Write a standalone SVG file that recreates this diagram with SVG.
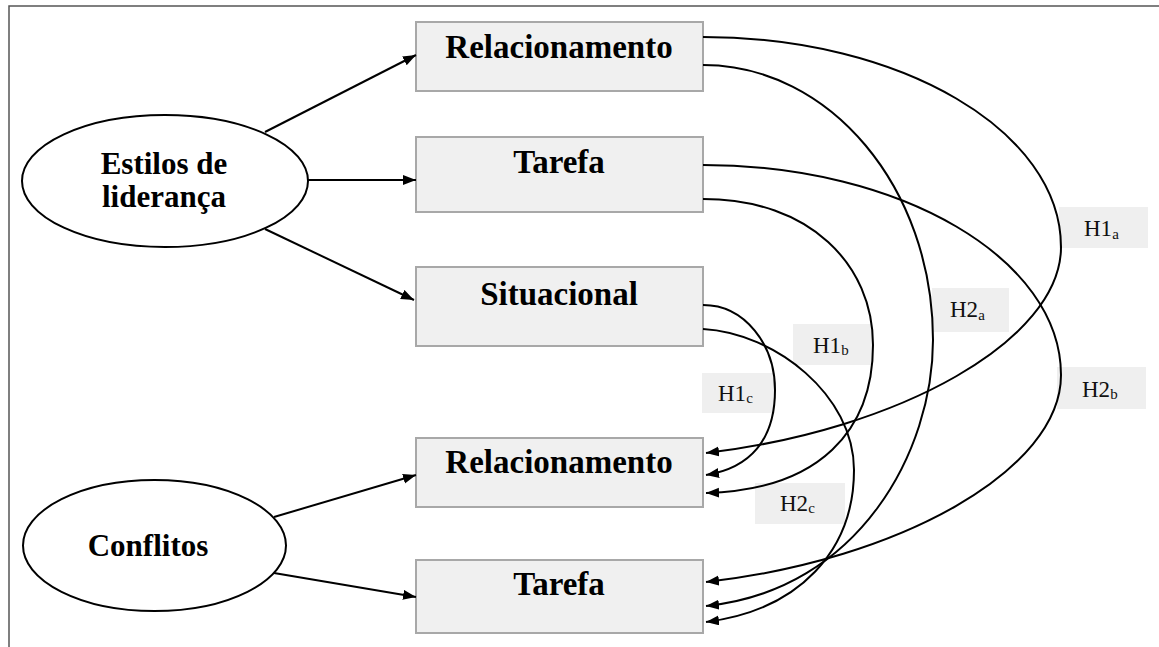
<svg xmlns="http://www.w3.org/2000/svg" width="1159" height="647" viewBox="0 0 1159 647">
<style>
.box{fill:#f0f0f0;stroke:#a8a8a8;stroke-width:2}
.ell{fill:#fff;stroke:#000;stroke-width:2}
.nt{font-family:"Liberation Serif","Times New Roman",serif;font-weight:bold;font-size:33px;fill:#000;text-anchor:middle}
.et{font-family:"Liberation Serif","Times New Roman",serif;font-weight:bold;font-size:31px;fill:#000;text-anchor:middle}
.lb{fill:#efefef}
.lt{font-family:"Liberation Serif","Times New Roman",serif;font-size:23px;fill:#111}
.sub{font-size:15px}
.ln{fill:none;stroke:#000;stroke-width:2}
</style>
<defs>
<marker id="ah" markerUnits="userSpaceOnUse" markerWidth="14" markerHeight="11" refX="13" refY="5" orient="auto">
<path d="M0,0 L13,5 L0,10 z" fill="#000"/>
</marker>
</defs>
<rect width="1159" height="647" fill="#fff"/>
<g id="frame" fill="none" stroke="#555" stroke-width="1.5">
<path d="M9,647 L9,6 L1159,6"/>
</g>
<g id="estilos">
<ellipse class="ell" cx="165" cy="181" rx="143" ry="66"/>
<text class="et" x="164" y="174">Estilos de</text>
<text class="et" x="164" y="207">liderança</text>
</g>
<g id="conflitos">
<ellipse class="ell" cx="154.5" cy="545.5" rx="131.5" ry="65.5"/>
<text class="et" x="148" y="556">Conflitos</text>
</g>
<g id="rel1">
<rect class="box" x="416" y="22" width="287" height="69"/>
<text class="nt" x="559" y="58">Relacionamento</text>
</g>
<g id="tar1">
<rect class="box" x="416" y="137" width="287" height="75"/>
<text class="nt" x="559" y="173">Tarefa</text>
</g>
<g id="sit">
<rect class="box" x="416" y="267" width="287" height="79"/>
<text class="nt" x="559" y="305">Situacional</text>
</g>
<g id="rel2">
<rect class="box" x="416" y="438" width="287" height="69"/>
<text class="nt" x="559" y="473">Relacionamento</text>
</g>
<g id="tar2">
<rect class="box" x="416" y="560" width="287" height="73"/>
<text class="nt" x="559" y="595">Tarefa</text>
</g>
<g id="labels">
<g id="lH1a"><rect class="lb" x="1059" y="207" width="89" height="41"/><text class="lt" x="1084" y="236">H1<tspan class="sub" dy="3">a</tspan></text></g>
<g id="lH2a"><rect class="lb" x="932" y="288" width="77" height="44"/><text class="lt" x="950" y="317">H2<tspan class="sub" dy="3">a</tspan></text></g>
<g id="lH2b"><rect class="lb" x="1057" y="367" width="89" height="42"/><text class="lt" x="1082" y="397">H2<tspan class="sub" dy="2">b</tspan></text></g>
<g id="lH1b"><rect class="lb" x="793" y="324" width="79" height="41"/><text class="lt" x="813" y="353">H1<tspan class="sub" dy="2">b</tspan></text></g>
<g id="lH1c"><rect class="lb" x="702" y="373" width="73" height="40"/><text class="lt" x="718" y="401">H1<tspan class="sub" dy="2">c</tspan></text></g>
<g id="lH2c"><rect class="lb" x="755" y="483" width="90" height="41"/><text class="lt" x="780" y="511">H2<tspan class="sub" dy="2">c</tspan></text></g>
</g>
<g id="connectors">
<path class="ln" marker-end="url(#ah)" d="M265,132 L416,55"/>
<path class="ln" marker-end="url(#ah)" d="M308,180 L416,180"/>
<path class="ln" marker-end="url(#ah)" d="M265,229 L414,300"/>
<path class="ln" marker-end="url(#ah)" d="M274,517 L416,475"/>
<path class="ln" marker-end="url(#ah)" d="M274,573 L416,597"/>
<path class="ln" marker-end="url(#ah)" d="M703,37 C901,37 1061,131 1061,247 C1061,340 900,430 706,453"/>
<path class="ln" marker-end="url(#ah)" d="M703,65 C830,65 933,188 933,340 C933,450 860,590 706,606"/>
<path class="ln" marker-end="url(#ah)" d="M703,165 C901,165 1061,259 1061,375 C1061,470 900,560 706,582"/>
<path class="ln" marker-end="url(#ah)" d="M703,199 C810,199 873,265 873,345 C873,430 820,490 706,493"/>
<path class="ln" marker-end="url(#ah)" d="M703,305 C745,305 775,345 775,390 C775,440 750,468 706,475"/>
<path class="ln" marker-end="url(#ah)" d="M703,329 C775,333 854,395 854,470 C854,550 800,610 706,622"/>
</g>
</svg>
